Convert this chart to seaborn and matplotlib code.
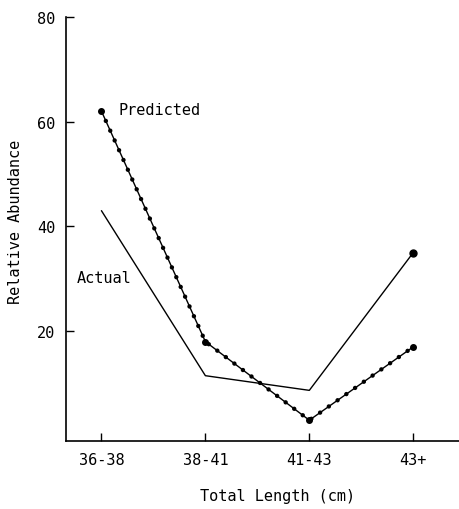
import pandas as pd
import seaborn as sns
import matplotlib.pyplot as plt

# Values.
lengths = ["36-38", "38-41", "41-43", "43+"]
predicted = [62, 18, 3, 17]
actual = [43, 11.5, 8.7, 35]

df = pd.DataFrame({"length": lengths, "predicted": predicted, "actual": actual})

sns.set_style("ticks", {"axes.edgecolor": "black", "text.color": "black",
                        "xtick.color": "black", "ytick.color": "black",
                        "axes.labelcolor": "black"})
plt.rcParams["font.family"] = ["DejaVu Sans Mono"]

fig = plt.figure(figsize=(4.59, 5.10), dpi=100)
ax = fig.add_axes([0.144, 0.133, 0.856, 0.832])

# Actual: plain thin line, dot at the last point.
sns.lineplot(data=df, x="length", y="actual", color="black", linewidth=1.0, ax=ax, sort=False)
ax.plot(3, actual[-1], "o", color="black", markersize=5)

# Predicted: line with beads along it.
sns.lineplot(data=df, x="length", y="predicted", color="black", linewidth=1.0, ax=ax, sort=False)
sns.lineplot(data=df, x="length", y="predicted", color="black", linewidth=3.2, ax=ax, sort=False,
             linestyle=(0, (0.01, 2.4)), dash_capstyle="round")
ax.plot(df.index, predicted, "o", color="black", markersize=4)

ax.text(0.16, 62.4, "Predicted", fontsize=11, va="center", ha="left")
ax.text(-0.24, 30.3, "Actual", fontsize=11, va="center", ha="left")

ax.set_xlim(-0.34, 3.44)
ax.set_ylim(-1, 80)
ax.set_yticks([20, 40, 60, 80])
ax.tick_params(direction="in", length=6, width=1, labelsize=11, pad=8)
ax.set_xlabel("Total Length (cm)", fontsize=11)
ax.set_ylabel("Relative Abundance", fontsize=11)
ax.xaxis.set_label_coords(0.537, -0.11)
ax.yaxis.set_label_coords(-0.11, 0.52)
sns.despine(ax=ax)
ax.spines["left"].set_linewidth(1.2)
ax.spines["bottom"].set_linewidth(1.2)

plt.savefig("out.png", dpi=100)
